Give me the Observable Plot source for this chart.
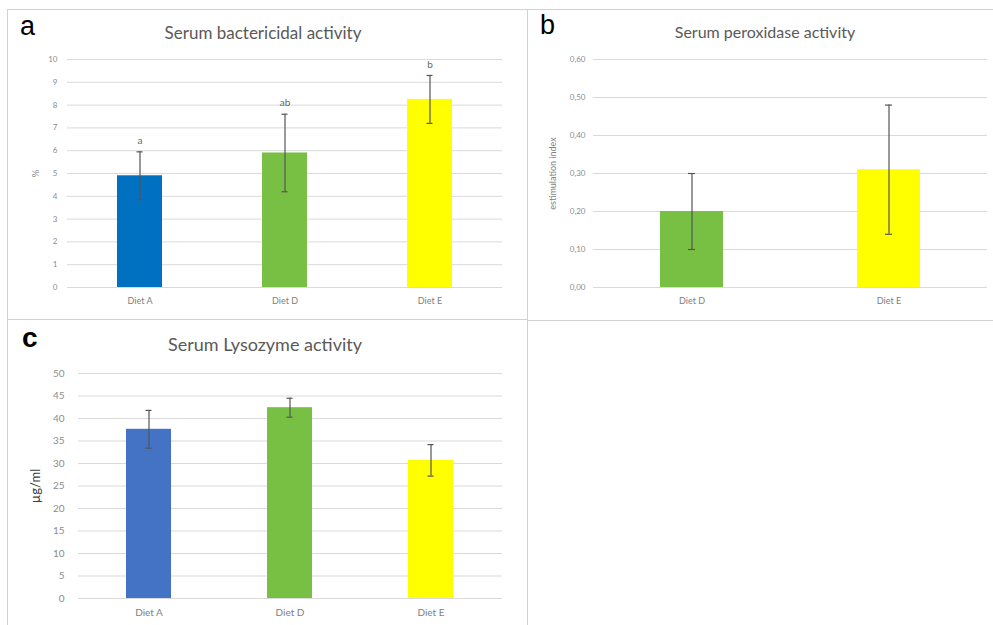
<!DOCTYPE html>
<html><head><meta charset="utf-8">
<script src="https://cdn.jsdelivr.net/npm/d3@7"></script>
<script src="https://cdn.jsdelivr.net/npm/@observablehq/plot@0.6"></script>
<style>
body{margin:0;background:#fff;width:993px;height:625px;position:relative;overflow:hidden;font-family:Lato,"Open Sans",sans-serif}
.panel{position:absolute;border:1px solid #d2d2d2;box-sizing:border-box}
.letter{position:absolute;font-family:"Liberation Sans",Arial,sans-serif;color:#000;line-height:1}
.title{position:absolute;color:#595959;text-align:center;line-height:1;white-space:nowrap}
.chart{position:absolute}
</style></head><body>
<div class="panel" style="left:7px;top:9px;width:521px;height:311px"></div>
<div class="panel" style="left:527px;top:9px;width:475px;height:312px"></div>
<div class="panel" style="left:7px;top:319px;width:521px;height:315px"></div>

<div class="letter" style="left:20px;top:13px;font-size:27px">a</div>
<div class="letter" style="left:540px;top:12px;font-size:27px">b</div>
<div class="letter" style="left:22px;top:324px;font-size:28px;font-weight:bold">c</div>

<div class="title" style="left:113px;width:300px;top:24px;font-size:17px">Serum bactericidal activity</div>
<div class="title" style="left:615px;width:300px;top:24px;font-size:16px">Serum peroxidase activity</div>
<div class="title" style="left:115px;width:300px;top:335px;font-size:18px">Serum Lysozyme activity</div>

<div class="chart" id="ca" style="left:8px;top:40px"></div>
<div class="chart" id="cb" style="left:527px;top:40px"></div>
<div class="chart" id="cc" style="left:8px;top:360px"></div>

<script>
// ---- data ----
const dietsA = ["Diet A", "Diet D", "Diet E"];
const bactericidal = [4.9, 5.9, 8.25];
const bactericidalErr = [1.05, 1.7, 1.05];
const bactericidalLetters = ["a", "ab", "b"];
const ticksA = [0, 1, 2, 3, 4, 5, 6, 7, 8, 9, 10];

const dietsB = ["Diet D", "Diet E"];
const peroxidase = [0.20, 0.31];
const peroxidaseErr = [0.10, 0.17];
const ticksB = [0, 0.1, 0.2, 0.3, 0.4, 0.5, 0.6];

const dietsC = ["Diet A", "Diet D", "Diet E"];
const lysozyme = [37.6, 42.4, 30.7];
const lysozymeErr = [4.2, 2.1, 3.5];
const ticksC = [0, 5, 10, 15, 20, 25, 30, 35, 40, 45, 50];

// ---- styles ----
const colorDomain = ["Diet A", "Diet D", "Diet E"];
const colorsAB = ["#0070C0", "#78C043", "#FFFF00"];
const colorsC = ["#4472C4", "#78C043", "#FFFF00"];
const errColor = "#555555";

function rows(diets, vals, errs, labels) {
  return diets.map((d, i) => ({diet: d, v: vals[i], e: errs[i], lab: labels ? labels[i] : ""}));
}

function chart(opts) {
  const data = rows(opts.diets, opts.vals, opts.errs, opts.labels);
  const marks = [
    Plot.gridY(opts.ticks, {stroke: "#d9d9d9", strokeOpacity: 1}),
    Plot.barY(data, {x: "diet", y: "v", fill: "diet"}),
    Plot.ruleX(data, {x: "diet", y1: d => d.v - d.e, y2: d => d.v + d.e, stroke: errColor, strokeWidth: 1.2}),
    Plot.tickY(data, {x: "diet", y: d => d.v + d.e, insetLeft: opts.cap, insetRight: opts.cap, stroke: errColor, strokeWidth: 1.2}),
    Plot.tickY(data, {x: "diet", y: d => d.v - d.e, insetLeft: opts.cap, insetRight: opts.cap, stroke: errColor, strokeWidth: 1.2}),
    Plot.axisX({tickSize: 0, tickPadding: opts.xPad, label: null, fontSize: opts.xFont, fill: "#7f7f7f"}),
    Plot.axisY({ticks: opts.ticks, tickSize: 0, tickPadding: opts.yPad, tickFormat: opts.fmt, fontSize: opts.yFont, fill: "#8c8c8c", label: null}),
    Plot.axisY({ticks: [], tickSize: 0, fontSize: opts.labelFont, fill: opts.labelColor,
      label: opts.ylabel, labelAnchor: "center", labelArrow: "none", labelOffset: opts.labelOffset})
  ];
  if (opts.labels) {
    marks.push(Plot.text(data, {x: "diet", y: d => d.v + d.e, text: "lab", dy: -11, fill: "#666", fontSize: 10}));
  }
  return Plot.plot({
    width: opts.width, height: opts.height,
    marginLeft: opts.ml, marginRight: opts.mr, marginTop: opts.mt, marginBottom: opts.mb,
    style: {fontFamily: "Lato, 'Open Sans', sans-serif", background: "transparent"},
    x: {domain: opts.diets, paddingInner: opts.pi, paddingOuter: opts.pi / 2, axis: null},
    y: {domain: [opts.ticks[0], opts.ticks[opts.ticks.length - 1]], axis: null},
    color: {domain: colorDomain, range: opts.colors},
    marks
  });
}

document.getElementById("ca").append(chart({
  diets: dietsA, vals: bactericidal, errs: bactericidalErr, labels: bactericidalLetters, ticks: ticksA,
  width: 515, height: 270, ml: 59, mr: 21, mt: 19, mb: 23, pi: 0.69, cap: 19.5,
  xPad: 10, xFont: 9, yPad: 10, yFont: 8, fmt: d => String(d),
  ylabel: "%", labelOffset: 36, labelColor: "#8c8c8c", labelFont: 10, colors: colorsAB
}));

document.getElementById("cb").append(chart({
  diets: dietsB, vals: peroxidase, errs: peroxidaseErr, ticks: ticksB,
  width: 466, height: 270, ml: 66, mr: 6, mt: 19, mb: 23, pi: 0.68, cap: 28,
  xPad: 10, xFont: 9, yPad: 8, yFont: 8, fmt: d => d.toFixed(2).replace(".", ","),
  ylabel: "estimulation index", labelOffset: 44, labelColor: "#7f7f7f", labelFont: 9, colors: colorsAB
}));

document.getElementById("cc").append(chart({
  diets: dietsC, vals: lysozyme, errs: lysozymeErr, ticks: ticksC,
  width: 515, height: 260, ml: 70, mr: 21, mt: 13, mb: 22, pi: 0.68, cap: 19.5,
  xPad: 10, xFont: 10, yPad: 14, yFont: 10, fmt: d => String(d),
  ylabel: "µg/ml", labelOffset: 48, labelColor: "#404040", labelFont: 13, colors: colorsC
}));
</script>
</body></html>
